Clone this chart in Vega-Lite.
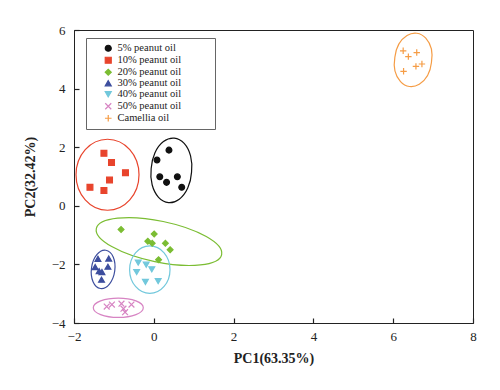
{
  "$schema": "https://vega.github.io/schema/vega-lite/v6.json",
  "width": 399,
  "height": 293,
  "autosize": {"type": "none"},
  "padding": {"left": 74, "top": 30, "right": 27, "bottom": 67},
  "background": "white",
  "datasets": {
    "points": [
      {"group": "5% peanut oil", "pc1": 0.38, "pc2": 1.90},
      {"group": "5% peanut oil", "pc1": 0.08, "pc2": 1.56},
      {"group": "5% peanut oil", "pc1": 0.15, "pc2": 0.99},
      {"group": "5% peanut oil", "pc1": 0.32, "pc2": 0.80},
      {"group": "5% peanut oil", "pc1": 0.59, "pc2": 0.99},
      {"group": "5% peanut oil", "pc1": 0.70, "pc2": 0.63},
      {"group": "10% peanut oil", "pc1": -1.25, "pc2": 1.79},
      {"group": "10% peanut oil", "pc1": -1.06, "pc2": 1.48},
      {"group": "10% peanut oil", "pc1": -0.71, "pc2": 1.13},
      {"group": "10% peanut oil", "pc1": -1.11, "pc2": 0.88},
      {"group": "10% peanut oil", "pc1": -1.60, "pc2": 0.63},
      {"group": "10% peanut oil", "pc1": -1.25, "pc2": 0.52},
      {"group": "20% peanut oil", "pc1": -0.82, "pc2": -0.81},
      {"group": "20% peanut oil", "pc1": 0.01, "pc2": -0.96},
      {"group": "20% peanut oil", "pc1": -0.15, "pc2": -1.21},
      {"group": "20% peanut oil", "pc1": -0.04, "pc2": -1.28},
      {"group": "20% peanut oil", "pc1": 0.29, "pc2": -1.28},
      {"group": "20% peanut oil", "pc1": 0.41, "pc2": -1.50},
      {"group": "20% peanut oil", "pc1": 0.12, "pc2": -1.84},
      {"group": "30% peanut oil", "pc1": -1.40, "pc2": -1.81},
      {"group": "30% peanut oil", "pc1": -1.13, "pc2": -1.80},
      {"group": "30% peanut oil", "pc1": -1.47, "pc2": -2.09},
      {"group": "30% peanut oil", "pc1": -1.15, "pc2": -2.08},
      {"group": "30% peanut oil", "pc1": -1.37, "pc2": -2.23},
      {"group": "30% peanut oil", "pc1": -1.30, "pc2": -2.26},
      {"group": "30% peanut oil", "pc1": -1.31, "pc2": -2.52},
      {"group": "40% peanut oil", "pc1": -0.39, "pc2": -1.94},
      {"group": "40% peanut oil", "pc1": -0.19, "pc2": -2.01},
      {"group": "40% peanut oil", "pc1": -0.05, "pc2": -2.17},
      {"group": "40% peanut oil", "pc1": -0.43, "pc2": -2.26},
      {"group": "40% peanut oil", "pc1": -0.21, "pc2": -2.60},
      {"group": "40% peanut oil", "pc1": 0.11, "pc2": -2.57},
      {"group": "50% peanut oil", "pc1": -1.18, "pc2": -3.44},
      {"group": "50% peanut oil", "pc1": -1.05, "pc2": -3.37},
      {"group": "50% peanut oil", "pc1": -0.81, "pc2": -3.34},
      {"group": "50% peanut oil", "pc1": -0.76, "pc2": -3.51},
      {"group": "50% peanut oil", "pc1": -0.72, "pc2": -3.63},
      {"group": "50% peanut oil", "pc1": -0.56, "pc2": -3.37},
      {"group": "Camellia oil", "pc1": 6.25, "pc2": 5.29},
      {"group": "Camellia oil", "pc1": 6.38, "pc2": 5.09},
      {"group": "Camellia oil", "pc1": 6.59, "pc2": 5.23},
      {"group": "Camellia oil", "pc1": 6.26, "pc2": 4.59},
      {"group": "Camellia oil", "pc1": 6.57, "pc2": 4.76},
      {"group": "Camellia oil", "pc1": 6.72, "pc2": 4.84}
    ],
    "ellipses": [
      {"group": "5% peanut oil", "pc1": 0.44, "pc2": 1.21},
      {"group": "10% peanut oil", "pc1": -1.16, "pc2": 1.06},
      {"group": "20% peanut oil", "pc1": 0.13, "pc2": -1.22},
      {"group": "30% peanut oil", "pc1": -1.27, "pc2": -2.17},
      {"group": "40% peanut oil", "pc1": -0.10, "pc2": -2.18},
      {"group": "50% peanut oil", "pc1": -0.89, "pc2": -3.48},
      {"group": "Camellia oil", "pc1": 6.50, "pc2": 4.98}
    ]
  },
  "config": {
    "view": {"stroke": "#222", "strokeWidth": 1},
    "axis": {
      "grid": false,
      "labelFlush": false,
      "labelFont": "Liberation Serif",
      "labelFontSize": 13,
      "labelColor": "#222",
      "titleFont": "Liberation Serif",
      "titleFontSize": 14,
      "titleFontWeight": "bold",
      "titleColor": "#222",
      "domainColor": "#222",
      "tickColor": "#222",
      "tickWidth": 1.2,
      "tickSize": -5
    },
    "legend": {
      "orient": "none",
      "legendX": 12,
      "legendY": 8,
      "strokeColor": "#666",
      "fillColor": "white",
      "padding": 5,
      "labelFont": "Liberation Serif",
      "labelFontSize": 10.5,
      "labelColor": "#222",
      "symbolSize": 36,
      "symbolStrokeWidth": 1.2,
      "symbolOffset": 12,
      "labelOffset": 4,
      "rowPadding": 0
    }
  },
  "encoding": {
    "x": {"field": "pc1", "type": "quantitative", "title": "PC1(63.35%)",
      "scale": {"domain": [-2, 8], "nice": false, "zero": false},
      "axis": {"values": [-2, 0, 2, 4, 6, 8], "labelPadding": 12, "titlePadding": 8}},
    "y": {"field": "pc2", "type": "quantitative", "title": "PC2(32.42%)",
      "scale": {"domain": [-4, 6], "nice": false, "zero": false},
      "axis": {"values": [-4, -2, 0, 2, 4, 6], "labelPadding": 14, "titlePadding": 14}},
    "stroke": {"field": "group", "type": "nominal", "title": null,
      "scale": {"domain": ["5% peanut oil", "10% peanut oil", "20% peanut oil", "30% peanut oil", "40% peanut oil", "50% peanut oil", "Camellia oil"],
        "range": ["#111111", "#e8442c", "#7bbd33", "#3d4e9e", "#72c8dc", "#d784c3", "#f59c45"]},
      "legend": {"labelFont": "Liberation Serif", "labelExpr": "datum.label + '\u00a0\u00a0\u00a0\u00a0\u00a0\u00a0\u00a0\u00a0\u00a0\u00a0\u00a0\u200b'"}}
  },
  "layer": [
    {"data": {"name": "ellipses"}, "transform": [{"filter": "datum.group === '5% peanut oil'"}],
      "mark": {"type": "point", "filled": false, "opacity": 1, "strokeWidth": 1.2, "size": 4,
        "shape": "M-20.2,-1.8A20.3,31,5,1,0,20.2,1.8A20.3,31,5,1,0,-20.2,-1.8Z"}},
    {"data": {"name": "ellipses"}, "transform": [{"filter": "datum.group === '10% peanut oil'"}],
      "mark": {"type": "point", "filled": false, "opacity": 1, "strokeWidth": 1.2, "size": 4,
        "shape": "M-31.5,0A31.5,35.5,0,1,0,31.5,0A31.5,35.5,0,1,0,-31.5,0Z"}},
    {"data": {"name": "ellipses"}, "transform": [{"filter": "datum.group === '20% peanut oil'"}],
      "mark": {"type": "point", "filled": false, "opacity": 1, "strokeWidth": 1.2, "size": 4,
        "shape": "M-62.67,-12.98A64,20.5,11.7,1,0,62.67,12.98A64,20.5,11.7,1,0,-62.67,-12.98Z"}},
    {"data": {"name": "ellipses"}, "transform": [{"filter": "datum.group === '30% peanut oil'"}],
      "mark": {"type": "point", "filled": false, "opacity": 1, "strokeWidth": 1.2, "size": 4,
        "shape": "M-11.6,-1.6A11.7,19.3,8,1,0,11.6,1.6A11.7,19.3,8,1,0,-11.6,-1.6Z"}},
    {"data": {"name": "ellipses"}, "transform": [{"filter": "datum.group === '40% peanut oil'"}],
      "mark": {"type": "point", "filled": false, "opacity": 1, "strokeWidth": 1.2, "size": 4,
        "shape": "M-20.2,0A20.2,23.7,0,1,0,20.2,0A20.2,23.7,0,1,0,-20.2,0Z"}},
    {"data": {"name": "ellipses"}, "transform": [{"filter": "datum.group === '50% peanut oil'"}],
      "mark": {"type": "point", "filled": false, "opacity": 1, "strokeWidth": 1.2, "size": 4,
        "shape": "M-25,0A25,9.7,0,1,0,25,0A25,9.7,0,1,0,-25,0Z"}},
    {"data": {"name": "ellipses"}, "transform": [{"filter": "datum.group === 'Camellia oil'"}],
      "mark": {"type": "point", "filled": false, "opacity": 1, "strokeWidth": 1.2, "size": 4,
        "shape": "M-18.3,-2.6A18.5,25.8,8,1,0,18.3,2.6A18.5,25.8,8,1,0,-18.3,-2.6Z"}},
    {
      "data": {"name": "points"},
      "mark": {"type": "point", "filled": true, "opacity": 1, "strokeWidth": 1.2, "size": 34},
      "encoding": {
        "color": {"field": "group", "type": "nominal", "title": null,
          "scale": {"domain": ["5% peanut oil", "10% peanut oil", "20% peanut oil", "30% peanut oil", "40% peanut oil", "50% peanut oil", "Camellia oil"],
            "range": ["#111111", "#e8442c", "#7bbd33", "#3d4e9e", "#72c8dc", "#d784c3", "#f59c45"]},
          "legend": {"labelFont": "Liberation Serif", "labelExpr": "datum.label + '\u00a0\u00a0\u00a0\u00a0\u00a0\u00a0\u00a0\u00a0\u00a0\u00a0\u00a0\u200b'"}},
        "shape": {"field": "group", "type": "nominal", "title": null,
          "scale": {"domain": ["5% peanut oil", "10% peanut oil", "20% peanut oil", "30% peanut oil", "40% peanut oil", "50% peanut oil", "Camellia oil"],
            "range": ["circle", "square", "diamond", "triangle-up", "triangle-down", "M-1,-1L1,1M-1,1L1,-1", "M-1.1,0L1.1,0M0,-1.1L0,1.1"]},
          "legend": {"labelFont": "Liberation Serif", "labelExpr": "datum.label + '\u00a0\u00a0\u00a0\u00a0\u00a0\u00a0\u00a0\u00a0\u00a0\u00a0\u00a0\u200b'"}}
      }
    }
  ]
}
